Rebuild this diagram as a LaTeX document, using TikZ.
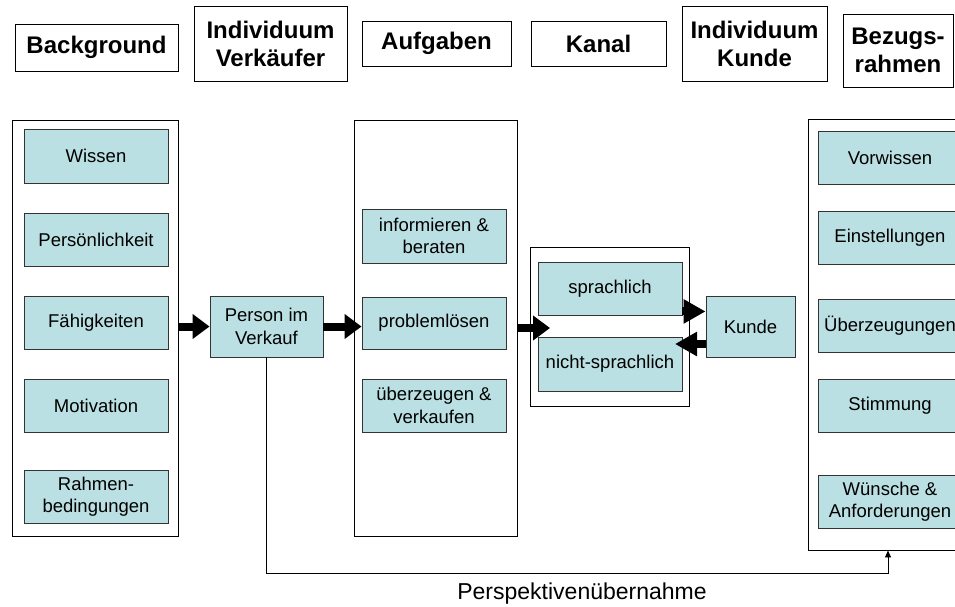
\documentclass[tikz,border=0pt]{standalone}
\usepackage{fontspec}
\setmainfont{Liberation Sans}
\usetikzlibrary{arrows.meta,calc}
\definecolor{boxfill}{HTML}{BBE0E3}
\definecolor{boxline}{HTML}{333333}
\tikzset{
  head/.style={draw=black, line width=0.9pt, fill=white, align=center, inner sep=0pt,
    font=\fontsize{24}{28}\selectfont\bfseries},
  frame/.style={draw=black, line width=0.9pt, inner sep=0pt},
  item/.style={draw=boxline, line width=0.9pt, fill=boxfill, align=center, inner sep=0pt,
    font=\fontsize{18.5}{22.5}\selectfont},
  bigarrow/.style={line width=8pt, -{Triangle[length=17pt,width=24pt]}},
  thinarrow/.style={line width=0.9pt, -{Triangle[length=7pt,width=6pt]}}
}
\begin{document}
\begin{tikzpicture}[x=1pt,y=-1pt]
\useasboundingbox (0,0) rectangle (955,606);
\clip (0,0) rectangle (955,606);
\fill[white] (0,0) rectangle (955,606);
% headers
\node[head, minimum width=163pt, minimum height=47pt] (hBack) at (96.5,47.5) {Background};
\node[head, minimum width=153pt, minimum height=75pt] (hVerk) at (270.5,43.5) {Individuum\\Verkäufer};
\node[head, minimum width=149pt, minimum height=45pt] (hAuf) at (436.5,43.5) {Aufgaben};
\node[head, minimum width=135pt, minimum height=45pt] (hKanal) at (598.5,43.5) {Kanal};
\node[head, minimum width=145pt, minimum height=75pt] (hKunde) at (754.5,43.5) {Individuum\\Kunde};
\node[head, minimum width=110pt, minimum height=73pt] (hBezug) at (898,50.5) {Bezugs-\\rahmen};
% containers
\node[frame, minimum width=166pt, minimum height=416pt] (cLeft) at (95,328) {};
\node[frame, minimum width=163pt, minimum height=416pt] (cAuf) at (435.5,328) {};
\node[frame, minimum width=159pt, minimum height=159pt] (cKanal) at (609.5,326.5) {};
\node[frame, minimum width=167pt, minimum height=431pt] (cRight) at (891.5,334.5) {};
% left items
\node[item, minimum width=144pt, minimum height=54pt] (wissen) at (96,156) {Wissen};
\node[item, minimum width=144pt, minimum height=53pt] (pers) at (96,239.5) {Persönlichkeit};
\node[item, minimum width=144pt, minimum height=53pt] (faeh) at (96,322.5) {Fähigkeiten};
\node[item, minimum width=144pt, minimum height=53pt] (motiv) at (96,405.5) {Motivation};
\node[item, minimum width=144pt, minimum height=53pt] (rahmen) at (96,496.5) {Rahmen-\\bedingungen};
% person
\node[item, minimum width=113pt, minimum height=61pt] (person) at (266.5,326.5) {Person im\\Verkauf};
% Aufgaben items
\node[item, minimum width=144pt, minimum height=54pt] (inform) at (434,236) {informieren \&\\beraten};
\node[item, minimum width=144pt, minimum height=52pt] (prob) at (434,323) {problemlösen};
\node[item, minimum width=144pt, minimum height=53pt] (ueber) at (434,405.5) {überzeugen \&\\verkaufen};
% Kanal items
\node[item, minimum width=144pt, minimum height=53pt] (spr) at (610,288.5) {sprachlich};
\node[item, minimum width=144pt, minimum height=54pt] (nspr) at (610,364) {nicht-sprachlich};
% Kunde
\node[item, minimum width=89pt, minimum height=61pt] (kunde) at (750.5,326.5) {Kunde};
% right items
\node[item, minimum width=144pt, minimum height=53pt] (vorw) at (890,157.5) {Vorwissen};
\node[item, minimum width=144pt, minimum height=53pt] (einst) at (890,237.5) {Einstellungen};
\node[item, minimum width=144pt, minimum height=53pt] (ueberz) at (890,325.5) {Überzeugungen};
\node[item, minimum width=144pt, minimum height=53pt] (stimm) at (890,405.5) {Stimmung};
\node[item, minimum width=144pt, minimum height=53pt] (wuen) at (890,501.5) {Wünsche \&\\Anforderungen};
% arrows
\draw[bigarrow] (cLeft.east |- person.west) -- (person.west);
\draw[bigarrow] (person.east) -- (person.east -| prob.west);
\coordinate (kIn) at (550,328);
\draw[bigarrow] (cAuf.east |- kIn) -- (kIn);
\draw[line width=8pt, -{Triangle[length=22pt,width=23pt]}] ([yshift=4pt]spr.south east) -- ([yshift=4pt]spr.south east -| kunde.west);
\coordinate (nIn) at (675,344);
\draw[line width=8pt, -{Triangle[length=22pt,width=23pt]}] (kunde.west |- nIn) -- (nIn);
% perspective
\coordinate (pb) at (888,573);
\draw[thinarrow] (person.south) |- (pb) -- (pb |- cRight.south);
\node[font=\fontsize{23}{27}\selectfont, anchor=base, inner sep=0pt] (persp) at (582,599) {Perspektivenübernahme};
\end{tikzpicture}
\end{document}
